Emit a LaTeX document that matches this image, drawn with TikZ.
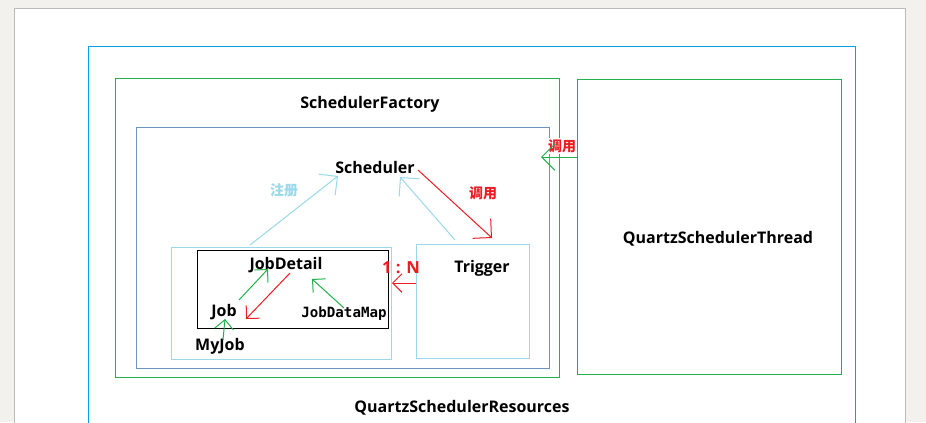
\documentclass[tikz,border=0pt]{standalone}
\usepackage{fontspec}
\setmainfont{Open Sans}
\newfontfamily\cjk{Noto Sans CJK SC}
\newfontfamily\monof{DejaVu Sans Mono}
\usetikzlibrary{arrows.meta}
\definecolor{pagegray}{HTML}{F2F1EE}
\definecolor{edgegray}{HTML}{BBBBBB}
\definecolor{cyanline}{HTML}{00A2E8}
\definecolor{pgreen}{HTML}{22B14C}
\definecolor{steel}{HTML}{7092BE}
\definecolor{lblue}{HTML}{99D9EA}
\definecolor{pred}{HTML}{ED1C24}
\tikzset{
  frame/.style={draw, line width=0.75pt, minimum width=#1, inner sep=0pt, fill=none},
  lbl/.style={font=\bfseries\fontsize{12}{14}\selectfont, inner sep=1pt},
  cjklbl/.style={font=\cjk\bfseries\fontsize{10.5}{12}\selectfont, inner sep=1pt},
  bigtip/.style={-{Straight Barb[length=10pt,width=20pt,line width=0.75pt]}},
  smalltip/.style={-{Straight Barb[length=7pt,width=14pt,line width=0.75pt]}},
  conn/.style={line width=0.75pt}
}
\begin{document}
\begin{tikzpicture}[x=0.75pt,y=-0.75pt]
\clip (0,0) rectangle (926,422);
\fill[pagegray] (0,0) rectangle (926,422);
\draw[edgegray, fill=white, line width=0.75pt] (14,8) rectangle (905,440);
% containers
\node[frame=575.25pt, draw=cyanline, minimum height=294pt] (res) at (471.5,242) {};
\node[frame=333pt, draw=pgreen, minimum height=224.25pt] (factory) at (337,227.5) {};
\node[frame=309.75pt, draw=steel, minimum height=180.75pt] (inner) at (342.5,247.5) {};
\node[frame=198pt, draw=pgreen, minimum height=221.25pt] (thread) at (709,226.5) {};
\node[frame=165pt, draw=lblue, minimum height=84pt] (myjobbox) at (281,303) {};
\node[frame=143.25pt, draw=black, minimum height=58.5pt] (jdbox) at (292.5,289) {};
\node[frame=84.75pt, draw=lblue, minimum height=85.5pt] (trigbox) at (472.5,301) {};
% labels
\node[lbl] (sf) at (370,104) {SchedulerFactory};
\node[lbl] (sched) at (375,167) {Scheduler};
\node[lbl] (qst) at (718,239) {QuartzSchedulerThread};
\node[lbl] (qsr) at (462,408) {QuartzSchedulerResources};
\node[lbl] (jd) at (286,265) {JobDetail};
\node[lbl] (job) at (224,312) {Job};
\node[font=\monof\bfseries\fontsize{10.6}{12}\selectfont, inner sep=1pt] (jdm) at (344,314) {JobDataMap};
\node[lbl] (myjob) at (220,346) {MyJob};
\node[lbl] (trig) at (482,268) {Trigger};
\node[lbl, text=pred, font=\bfseries\fontsize{12.5}{14}\selectfont] (ratio) at (401,268) {1 : N};
\node[cjklbl, text=lblue] (reg) at (284,190) {注册};
\node[cjklbl, text=pred] (call1) at (483,193) {调用};
\node[cjklbl, text=pred, fill=white] (call2) at (562,146) {调用};
% connector end points
\coordinate (regA) at (250,245);
\coordinate (regB) at (338,176);
\coordinate (trA) at (455,240);
\coordinate (trB) at (400,177);
\coordinate (scA) at (418,170);
\coordinate (scB) at (492,238);
\coordinate (nA) at (416,283);
\coordinate (nB) at (392,283);
\coordinate (jA) at (239,300);
\coordinate (jB) at (268,269);
\coordinate (rA) at (290,273);
\coordinate (rB) at (246,319);
\coordinate (mA) at (312,279);
\coordinate (mB) at (344,308);
\coordinate (myA) at (223,340);
\coordinate (myB) at (225,319);
\coordinate (thA) at (577,157);
\coordinate (thB) at (541,157);
% connectors
\draw[conn, lblue, bigtip] (regA) -- (regB);
\draw[conn, lblue, bigtip] (trA) -- (trB);
\draw[conn, pred, bigtip] (scA) -- (scB);
\draw[conn, pred, smalltip] (nA) -- (nB);
\draw[conn, pgreen, smalltip] (jA) -- (jB);
\draw[conn, pred, smalltip] (rA) -- (rB);
\draw[conn, pgreen, smalltip] (mB) -- (mA);
\draw[conn, pgreen, smalltip] (myA) -- (myB);
\draw[conn, pgreen, bigtip] (thA) -- (thB);
\end{tikzpicture}
\end{document}
